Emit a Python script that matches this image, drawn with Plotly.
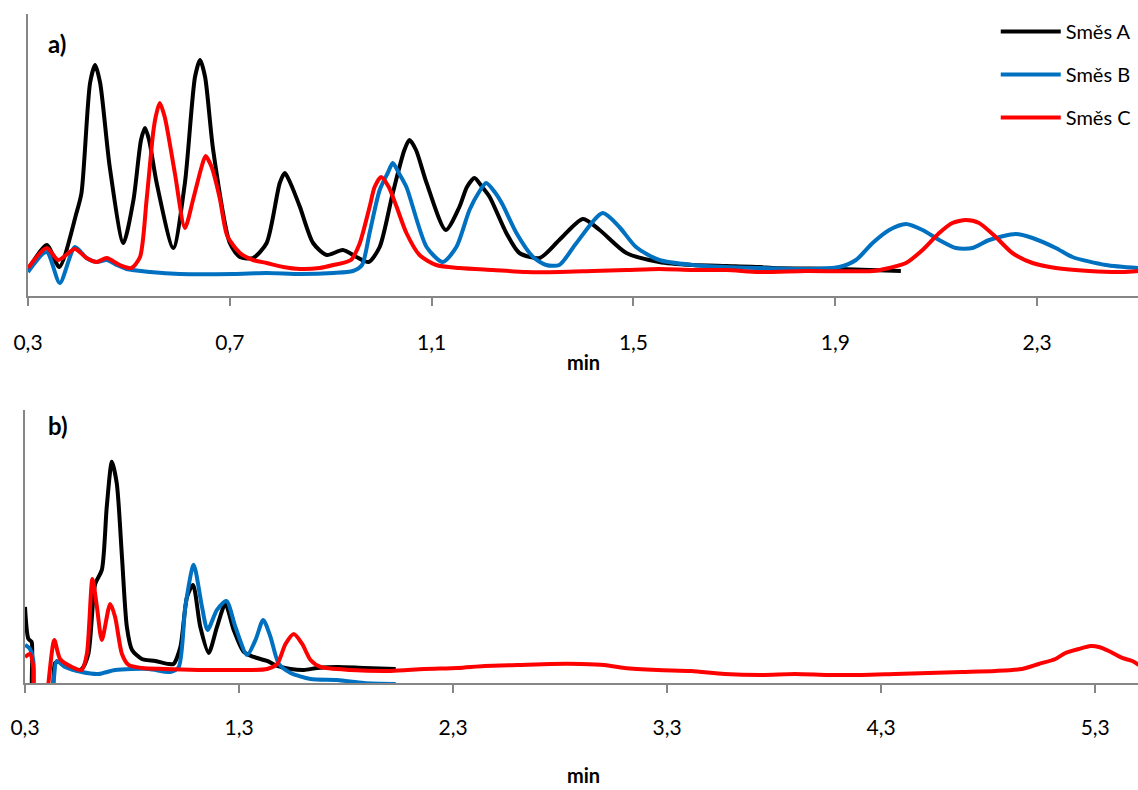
import plotly.graph_objects as go

# ---------------- data: panel a ----------------
a_A_t = [0.300, 0.337, 0.362, 0.396, 0.406, 0.423, 0.433, 0.443, 0.462, 0.489, 0.509, 0.524, 0.532, 0.540,
         0.555, 0.588, 0.611, 0.631, 0.641, 0.651, 0.667, 0.700, 0.720, 0.746, 0.773, 0.799, 0.809, 0.820,
         0.839, 0.865, 0.892, 0.924, 0.951, 0.975, 0.997, 1.023, 1.046, 1.056, 1.069, 1.090, 1.128, 1.155,
         1.170, 1.185, 1.200, 1.215, 1.248, 1.274, 1.314, 1.353, 1.400, 1.433, 1.486, 1.551,
         1.617, 1.684, 1.750, 1.776, 1.908, 2.030]
a_A_y = [26, 51, 29, 83, 103, 213, 231, 213, 129, 53, 96, 156, 168, 156,
         113, 48, 113, 219, 236, 219, 146, 53, 39, 38, 53, 113, 123, 113,
         89, 53, 41, 46, 39, 34, 49, 103, 146, 156, 146, 113, 66, 89,
         109, 118, 109, 99, 63, 43, 38, 56, 77, 66, 43, 34,
         31, 30, 29, 28, 27, 25]

a_B_t = [0.300, 0.337, 0.363, 0.393, 0.416, 0.436, 0.456, 0.476, 0.495, 0.542, 0.601, 0.707, 0.773, 0.839,
         0.905, 0.944, 0.962, 0.977, 0.997, 1.013, 1.023, 1.035, 1.050, 1.090, 1.122, 1.149, 1.175, 1.194,
         1.208, 1.225, 1.240, 1.268, 1.301, 1.327, 1.353, 1.387, 1.439, 1.472, 1.505, 1.551, 1.617, 1.684,
         1.750, 1.842, 1.908, 1.941, 1.974, 2.007, 2.040, 2.073, 2.106, 2.139, 2.172, 2.205, 2.258, 2.291,
         2.337, 2.370, 2.436, 2.500]
a_B_y = [24, 44, 13, 49, 38, 34, 36, 31, 27, 24, 22, 22, 23, 22,
         23, 25, 31, 63, 106, 123, 133, 123, 109, 49, 34, 49, 86, 104,
         113, 104, 92, 63, 39, 31, 31, 53, 83, 69, 49, 36, 31, 29,
         28, 27, 29, 36, 53, 66, 72, 66, 56, 48, 48, 56, 62, 58,
         48, 39, 31, 28]

a_C_t = [0.300, 0.337, 0.360, 0.393, 0.416, 0.436, 0.456, 0.482, 0.505, 0.522, 0.535, 0.548, 0.553, 0.561,
         0.571, 0.591, 0.611, 0.627, 0.644, 0.652, 0.664, 0.680, 0.695, 0.720, 0.746, 0.773, 0.806, 0.839,
         0.878, 0.905, 0.940, 0.957, 0.977, 0.987, 1.000, 1.015, 1.030, 1.050, 1.076, 1.109, 1.155, 1.221,
         1.288, 1.353, 1.419, 1.486, 1.551, 1.617, 1.684, 1.750, 1.842, 1.974, 2.007, 2.040, 2.073, 2.106,
         2.132, 2.159, 2.185, 2.218, 2.251, 2.291, 2.337, 2.403, 2.469, 2.500]
a_C_y = [28, 48, 36, 47, 38, 34, 38, 31, 28, 39, 96, 163, 179, 193,
         179, 123, 68, 96, 129, 140, 129, 98, 60, 43, 36, 33, 29, 27,
         28, 31, 36, 52, 89, 109, 119, 109, 90, 63, 41, 31, 28, 26,
         24, 24, 25, 26, 27, 26, 26, 24, 25, 25, 28, 33, 46, 63,
         73, 76, 73, 59, 43, 33, 28, 25, 24, 25]

# ---------------- data: panel b ----------------
b_A_t = [0.300, 0.316, 0.331, 0.343, 0.420, 0.440, 0.460, 0.487, 0.534, 0.565, 0.596, 0.628, 0.659, 0.682,
         0.706, 0.729, 0.753, 0.776, 0.800, 0.846, 0.909, 0.971, 0.994, 1.026, 1.057, 1.085, 1.119, 1.158,
         1.197, 1.236, 1.275, 1.322, 1.369, 1.431, 1.478, 1.541, 1.603, 1.666, 1.759, 1.884, 2.032]
b_A_y = [76, 44, 41, -20, -20, 20, 21, 18, 13, 14, 29, 99, 113, 176,
         221, 199, 126, 56, 33, 24, 22, 19, 19, 36, 86, 98, 56, 30,
         56, 79, 53, 31, 26, 22, 17, 14, 13, 15, 16, 15, 14]

b_B_t = [0.300, 0.323, 0.339, 0.350, 0.420, 0.435, 0.448, 0.487, 0.565, 0.643, 0.721, 0.877, 0.979, 1.018,
         1.049, 1.088, 1.127, 1.153, 1.197, 1.241, 1.283, 1.338, 1.377, 1.413, 1.447, 1.486, 1.541, 1.634,
         1.759, 1.884, 2.032]
b_B_y = [38, 34, 22, -20, -20, 5, 22, 16, 11, 9, 13, 14, 11, 16,
         76, 118, 76, 53, 73, 82, 56, 28, 43, 63, 46, 19, 10, 4,
         3, 0, -1]

b_C_t = [0.300, 0.323, 0.339, 0.350, 0.400, 0.409, 0.437, 0.464, 0.519, 0.565, 0.589, 0.615, 0.636, 0.659,
         0.698, 0.721, 0.753, 0.784, 0.846, 0.955, 1.111, 1.197, 1.353, 1.431, 1.478, 1.517, 1.556, 1.595,
         1.634, 1.681, 1.822, 2.009, 2.165, 2.321, 2.446, 2.602, 2.758, 2.898, 3.007, 3.101, 3.257, 3.413,
         3.569, 3.741, 3.897, 4.053, 4.209, 4.365, 4.521, 4.677, 4.833, 4.958, 5.036, 5.114, 5.161, 5.223,
         5.278, 5.317, 5.364, 5.426, 5.473, 5.504]
b_C_y = [26, 29, 16, -20, -20, -1, 43, 24, 16, 13, 29, 104, 76, 43,
         79, 66, 29, 18, 15, 14, 13, 13, 13, 14, 19, 39, 49, 39,
         23, 16, 13, 12, 14, 15, 17, 18, 19, 19, 18, 15, 13, 12,
         9, 8, 9, 8, 8, 9, 10, 11, 12, 14, 19, 24, 30, 34,
         37, 36, 32, 25, 22, 18]

series_names = ["Směs A", "Směs B", "Směs C"]
series_colors = ["#000000", "#0070C0", "#FF0000"]

a_ticks = [0.3, 0.7, 1.1, 1.5, 1.9, 2.3]
a_ticktext = ["0,3", "0,7", "1,1", "1,5", "1,9", "2,3"]
b_ticks = [0.3, 1.3, 2.3, 3.3, 4.3, 5.3]
b_ticktext = ["0,3", "1,3", "2,3", "3,3", "4,3", "5,3"]

FONT = "Lato, 'Open Sans', sans-serif"

fig = go.Figure()
panel_a = [(a_A_t, a_A_y), (a_B_t, a_B_y), (a_C_t, a_C_y)]
panel_b = [(b_A_t, b_A_y), (b_B_t, b_B_y), (b_C_t, b_C_y)]
for i, (t, y) in enumerate(panel_a):
    fig.add_trace(go.Scatter(x=t, y=y, mode="lines", name=series_names[i],
                             line=dict(color=series_colors[i], width=4, shape="spline", smoothing=0.7),
                             legendgroup=series_names[i], showlegend=True,
                             xaxis="x", yaxis="y"))
for i, (t, y) in enumerate(panel_b):
    fig.add_trace(go.Scatter(x=t, y=y, mode="lines", name=series_names[i],
                             line=dict(color=series_colors[i], width=4, shape="spline", smoothing=0.7),
                             legendgroup=series_names[i], showlegend=False,
                             xaxis="x2", yaxis="y2"))

W, H = 1138, 790
axcommon = dict(showgrid=False, zeroline=False, showline=True, linecolor="#868686", linewidth=2,
                automargin=False)

fig.update_layout(
    width=W, height=H,
    margin=dict(l=0, r=0, t=0, b=0, autoexpand=False),
    paper_bgcolor="white", plot_bgcolor="white",
    font=dict(family=FONT, size=21, color="#000000"),
    xaxis=dict(domain=[28 / W, 1], range=[0.3, 2.5], tickvals=a_ticks, ticktext=a_ticktext,
               ticks="outside", ticklen=8, tickwidth=2, tickcolor="#868686",
               ticklabelstandoff=19, anchor="y", **axcommon),
    yaxis=dict(domain=[1 - 296 / H, 1 - 14 / H], range=[0, 282], showticklabels=False,
               ticks="", anchor="x", **axcommon),
    xaxis2=dict(domain=[25 / W, 1], range=[0.3, 5.5], tickvals=b_ticks, ticktext=b_ticktext,
                ticks="outside", ticklen=8, tickwidth=2, tickcolor="#868686",
                ticklabelstandoff=17, anchor="y2", **axcommon),
    yaxis2=dict(domain=[1 - 683 / H, 1 - 410 / H], range=[0, 272.7], showticklabels=False,
                ticks="", anchor="x2", **axcommon),
    legend=dict(x=0.875, y=1 - 12 / H, xanchor="left", yanchor="top",
                bgcolor="rgba(0,0,0,0)", font=dict(size=20, family=FONT),
                traceorder="grouped", tracegroupgap=14, itemwidth=60),
    showlegend=True,
    annotations=[
        dict(text="<b>a)</b>", x=46 / W, y=1 - 44 / H, xref="paper", yref="paper",
             xanchor="left", yanchor="middle", showarrow=False, font=dict(size=24)),
        dict(text="<b>b)</b>", x=46 / W, y=1 - 425 / H, xref="paper", yref="paper",
             xanchor="left", yanchor="middle", showarrow=False, font=dict(size=24)),
        dict(text="<b>min</b>", x=583 / W, y=1 - 362 / H, xref="paper", yref="paper",
             xanchor="center", yanchor="middle", showarrow=False, font=dict(size=20)),
        dict(text="<b>min</b>", x=583 / W, y=1 - 775 / H, xref="paper", yref="paper",
             xanchor="center", yanchor="middle", showarrow=False, font=dict(size=20)),
    ],
)

fig.write_html("out.html")
